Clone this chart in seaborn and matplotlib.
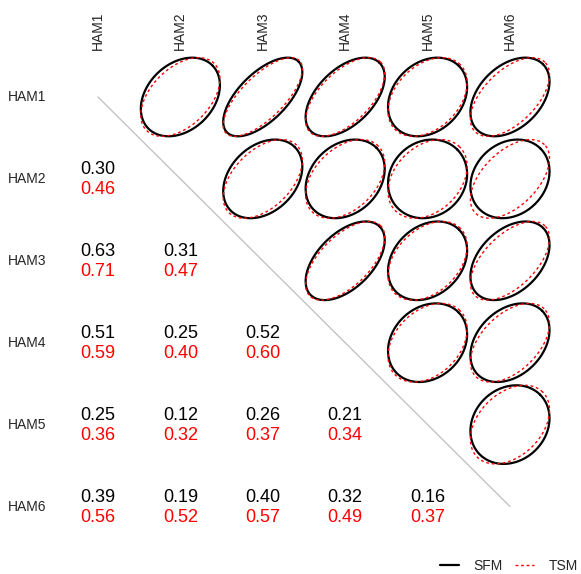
import numpy as np
import pandas as pd
import matplotlib
matplotlib.use("Agg")
import matplotlib.pyplot as plt
import seaborn as sns
from matplotlib.lines import Line2D

# Variable names
labels = ["HAM1", "HAM2", "HAM3", "HAM4", "HAM5", "HAM6"]

# Lower-triangle correlations, row by row (row k holds pairs with rows 1..k-1)
sfm_rows = [
    [0.30],
    [0.63, 0.31],
    [0.51, 0.25, 0.52],
    [0.25, 0.12, 0.26, 0.21],
    [0.39, 0.19, 0.40, 0.32, 0.16],
]
tsm_rows = [
    [0.46],
    [0.71, 0.47],
    [0.59, 0.40, 0.60],
    [0.36, 0.32, 0.37, 0.34],
    [0.56, 0.52, 0.57, 0.49, 0.37],
]
models = ["SFM", "TSM"]
model_colors = {"SFM": "black", "TSM": "red"}


def to_matrix(rows):
    n = len(rows) + 1
    m = np.eye(n)
    for k, vals in enumerate(rows, start=1):
        for j, v in enumerate(vals):
            m[k, j] = v
            m[j, k] = v
    return m


mats = {"SFM": to_matrix(sfm_rows), "TSM": to_matrix(tsm_rows)}
n = len(labels)
pos = np.arange(n)

sns.set_theme(style="white")
plt.rcParams["font.family"] = ["Liberation Sans", "DejaVu Sans"]

fig = plt.figure(figsize=(5.81, 5.74), dpi=100)
ax = fig.add_axes([0, 0, 1, 1])
ax.set_xlim(-1.189, 5.862)
ax.set_ylim(5.824, -1.184)
ax.axis("off")

# Correlation ellipses in the upper triangle
scale = 0.48
t = np.linspace(0, 2 * np.pi, 241)
records = []
for i in range(n):
    for j in range(i + 1, n):
        for model in models:
            r = mats[model][i, j]
            d = np.arccos(r)
            ex = pos[j] + scale * np.cos(t + d / 2)
            ey = pos[i] - scale * np.cos(t - d / 2)
            for a, b in zip(ex, ey):
                records.append({"x": a, "y": b, "model": model,
                                "pair": f"{i}-{j}-{model}"})
ell = pd.DataFrame(records)

sns.lineplot(data=ell, x="x", y="y", hue="model", style="model",
             size="model", units="pair", estimator=None, sort=False,
             palette=model_colors, dashes={"SFM": "", "TSM": (2, 2)},
             sizes={"SFM": 1.6, "TSM": 1.0}, legend=False, ax=ax)

# Diagonal separator
ax.plot(pos[[0, -1]], pos[[0, -1]], color="#BEBEBE", lw=0.9, zorder=0)

# Coefficients in the lower triangle
for i in range(n):
    for j in range(i):
        ax.text(pos[j], pos[i] - 0.116, f"{mats['SFM'][i, j]:.2f}",
                ha="center", va="center", fontsize=13, color="black")
        ax.text(pos[j], pos[i] + 0.134, f"{mats['TSM'][i, j]:.2f}",
                ha="center", va="center", fontsize=13, color="red")

# Axis labels
for k, lab in enumerate(labels):
    ax.text(pos[k], -0.574, lab, rotation=90, ha="center", va="bottom",
            fontsize=10)
    ax.text(-1.092, pos[k], lab, ha="left", va="center", fontsize=10)

handles = [Line2D([], [], color="black", lw=1.6),
           Line2D([], [], color="red", lw=1.0, ls=(0, (2, 2)))]
fig.legend(handles=handles, labels=models, ncol=2, frameon=False,
           loc="lower right", bbox_to_anchor=(1.009, -0.012), fontsize=10,
           handlelength=1.35, handletextpad=1.05, columnspacing=0.9,
           borderaxespad=0.2)

fig.savefig("out.png", dpi=100)
